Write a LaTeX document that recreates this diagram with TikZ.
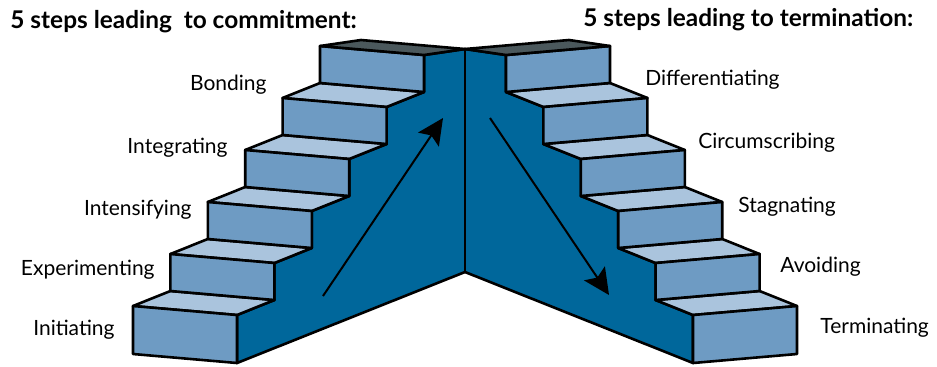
\documentclass[tikz,border=0pt]{standalone}
\usepackage{fontspec}
\setmainfont{Lato}
\usepackage{tikz}
\usetikzlibrary{arrows.meta}

\definecolor{riserblue}{HTML}{6E9BC3}
\definecolor{treadblue}{HTML}{AAC4DD}
\definecolor{wallblue}{HTML}{00679B}
\definecolor{topgray}{HTML}{4B585C}

\begin{document}
\begin{tikzpicture}[
    x=0.5pt, y=-0.5pt,
    face/.style = {draw=black, line width=1.3pt, line join=round, fill=#1},
    face/.default = riserblue,
    lbl/.style = {font=\fontsize{10.5}{12}\selectfont, inner sep=0pt},
    head/.style = {font=\fontsize{12.2}{14}\selectfont\bfseries, inner sep=0pt}
    ]
            % styles
            \tikzstyle{arrow} = [line width=1pt, -{Stealth[length=13pt, width=12.5pt, inset=2.5pt]}]

            \useasboundingbox (0,0) rectangle (937,366);

            % left stairs (commitment), right stairs are its mirror
            \foreach \side in {1,-1} {
            \begin{scope}[xshift={232.5pt*(1-\side)}, xscale=\side]
                % side wall
                \fill[wallblue] (465,272) -- (237,363) -- (237,315)
                    \foreach \k in {0,...,4} {
                        -- ({274.4+37.4*\k},{300-52*\k}) -- ({274.4+37.4*\k},{263-52*\k})
                    } -- (465,49) -- cycle;
                \draw[line width=1.3pt, line join=round] (465,272) -- (237,363) -- (237,315)
                    \foreach \k in {0,...,4} {
                        -- ({274.4+37.4*\k},{300-52*\k}) -- ({274.4+37.4*\k},{263-52*\k})
                    } -- (465,49);
                % treads
                \foreach \k in {0,...,4}
                    \draw[face=treadblue] ({133+37.4*\k},{306-52*\k}) -- ++(104,9) -- ++(37.4,-15) -- ++(-104,-9) -- cycle;
                % risers
                \draw[face] (133,306) -- ++(104,9) -- ++(0,48) -- ++(-104,-9) -- cycle;
                \foreach \k in {1,...,5}
                    \draw[face] ({133+37.4*\k},{306-52*\k}) -- ++(104,9) -- ++(0,37) -- ++(-104,-9) -- cycle;
                % top
                \draw[face=topgray] (320,46) -- (424,55) -- (465,49) -- (361,40) -- cycle;
            \end{scope}
            }
            \draw[line width=0.6pt] (465,49) -- (465,272);

            % arrows
            \coordinate (upstart) at (323,296);
            \coordinate (upend) at (443,118);
            \coordinate (downstart) at (490,118);
            \coordinate (downend) at (609,295);
            \draw [arrow] (upstart) -- (upend);
            \draw [arrow] (downstart) -- (downend);

            % labels
            \node (commithead) [head, anchor=west] at (10,22) {5 steps leading\ \ to commitment:};
            \node (termhead) [head, anchor=west] at (583,20) {5 steps leading to termination:};

            \node (bonding) [lbl, anchor=east] at (267,85) {Bonding};
            \node (integrating) [lbl, anchor=east] at (228,148) {Integrating};
            \node (intensifying) [lbl, anchor=east] at (192,210) {Intensifying};
            \node (experimenting) [lbl, anchor=east] at (155,270) {Experimenting};
            \node (initiating) [lbl, anchor=east] at (115,330) {Initiating};

            \node (differentiating) [lbl, anchor=west] at (645,80) {Differentiating};
            \node (circumscribing) [lbl, anchor=west] at (698,143) {Circumscribing};
            \node (stagnating) [lbl, anchor=west] at (738,207) {Stagnating};
            \node (avoiding) [lbl, anchor=west] at (780,267) {Avoiding};
            \node (terminating) [lbl, anchor=west] at (820,328) {Terminating};
\end{tikzpicture}
\end{document}
